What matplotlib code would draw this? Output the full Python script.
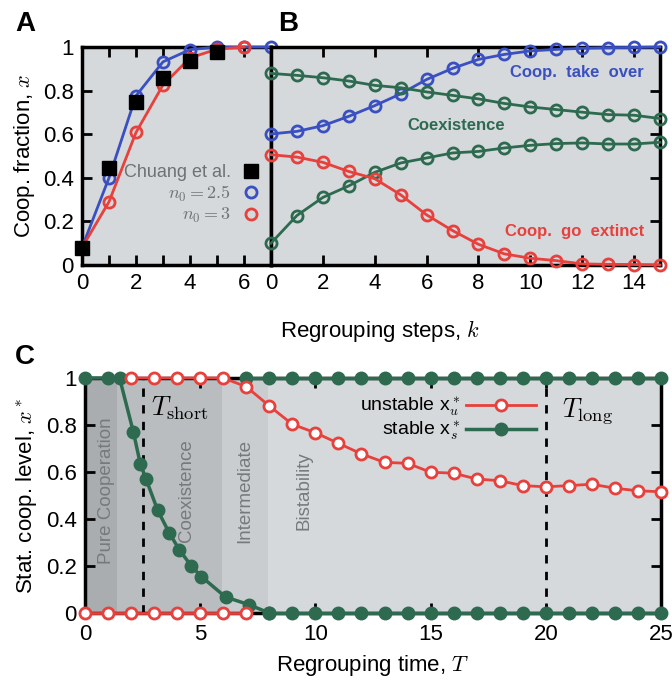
import matplotlib.pyplot as plt
import numpy as np

plt.rcParams['font.family'] = ['Liberation Sans', 'DejaVu Sans']
plt.rcParams['mathtext.fontset'] = 'cm'

# ---- data ----
# panel A
k_a = [0, 1, 2, 3, 4, 5, 6, 7]
chuang_k = [0, 1, 2, 3, 4, 5]
chuang_x = [0.08, 0.445, 0.748, 0.86, 0.938, 0.975]
n25_x = [0.08, 0.40, 0.776, 0.932, 0.988, 1.0, 1.0, 1.0]
n3_k = [0, 1, 2, 3, 4, 5, 6]
n3_x = [0.08, 0.29, 0.608, 0.826, 0.95, 0.99, 1.0]

# panel B
k_b = list(range(16))
takeover = [0.601, 0.613, 0.639, 0.682, 0.731, 0.785, 0.851, 0.902, 0.943,
            0.966, 0.982, 0.989, 0.994, 0.997, 0.998, 1.0]
coex_hi = [0.879, 0.870, 0.859, 0.844, 0.824, 0.813, 0.794, 0.778, 0.762,
           0.741, 0.725, 0.713, 0.701, 0.690, 0.687, 0.672]
coex_lo = [0.100, 0.227, 0.310, 0.363, 0.425, 0.468, 0.491, 0.514, 0.521,
           0.537, 0.549, 0.557, 0.560, 0.555, 0.555, 0.563]
extinct = [0.506, 0.495, 0.471, 0.429, 0.396, 0.322, 0.230, 0.158, 0.095,
           0.051, 0.031, 0.020, 0.005, 0.003, 0.002, 0.0]

# panel C
T_stab_hi = [0, 1, 1.5, 2.1, 2.4, 2.65, 3.15, 3.65, 4.1, 4.6, 5.05, 6.1, 7.1, 8]
x_stab_hi = [1, 1, 1, 0.77, 0.635, 0.57, 0.438, 0.342, 0.268, 0.202, 0.155,
             0.068, 0.036, 0.0]
T_stab_top = list(range(7, 26))
T_stab_bot = list(range(8, 26))
T_unst_hi = list(range(2, 26))
x_unst_hi = [1, 1, 1, 1, 1, 0.963, 0.881, 0.803, 0.767, 0.722, 0.677, 0.641,
             0.637, 0.599, 0.595, 0.570, 0.563, 0.542, 0.537, 0.542, 0.548,
             0.531, 0.520, 0.516]
T_unst_lo = [0, 1, 2, 3, 4, 5, 6, 7]
regions = [('Pure Cooperation', 0, 1.4, '#a9adaf', 0.95),
           ('Coexistence', 1.4, 5.95, '#b9bdbf', 4.4),
           ('Intermediate', 5.95, 7.95, '#c9cdcf', 6.95),
           ('Bistability', 7.95, 25, '#d5d9db', 9.5)]
T_short = 2.5
T_long = 20

BLUE = '#3a4fc1'
RED = '#e8403c'
GREEN = '#2d6a50'
BG = '#d5d9db'

fig = plt.figure(figsize=(6.72, 6.82), dpi=100)
W, H = 672, 682


def box(x0, x1, ytop, ybot):
    return [x0 / W, 1 - ybot / H, (x1 - x0) / W, (ybot - ytop) / H]


axA = fig.add_axes(box(82, 271, 47, 265))
axB = fig.add_axes(box(271, 660, 47, 265))
axC = fig.add_axes(box(85, 661, 378, 613))


def style(ax):
    ax.set_facecolor(BG)
    for s in ax.spines.values():
        s.set_linewidth(2.5)
    ax.tick_params(direction='in', length=7, width=2, labelsize=16,
                   top=True, right=True, pad=6)


for ax in (axA, axB, axC):
    style(ax)

yt = [0, 0.2, 0.4, 0.6, 0.8, 1]
ytl = ['0', '0.2', '0.4', '0.6', '0.8', '1']

# ---- panel A ----
axA.plot(k_a, n25_x, '-o', color=BLUE, mfc='none', ms=8, mew=2, lw=2,
         clip_on=False, zorder=4, label='$n_0 = 2.5$')
axA.plot(n3_k, n3_x, '-o', color=RED, mfc='none', ms=8, mew=2, lw=2,
         clip_on=False, zorder=5, label='$n_0 = 3$')
axA.plot(chuang_k, chuang_x, 's', color='black', ms=10, clip_on=False,
         zorder=6, label='Chuang et al.')
axA.set_xlim(0, 7)
axA.set_ylim(0, 1)
axA.set_xticks(range(8))
axA.set_xticklabels(['0', '', '2', '', '4', '', '6', ''])
axA.set_yticks(yt)
axA.set_yticklabels(ytl)
axA.tick_params(right=False)
axA.set_ylabel('Coop. fraction, $x$', fontsize=16, labelpad=4)
h, l = axA.get_legend_handles_labels()
legA = axA.legend([h[2], h[0], h[1]], [l[2], l[0], l[1]], loc='lower right',
                  bbox_to_anchor=(0.97, 0.14), frameon=False, markerfirst=False,
                  handlelength=0.6, handletextpad=0.8, labelspacing=0.15,
                  fontsize=13, borderpad=0)
for lh in legA.legend_handles:
    lh.set_linestyle('none')
for t in legA.get_texts():
    t.set_color('#6e7275')

# ---- panel B ----
axB.plot(k_b, takeover, '-o', color=BLUE, mfc='none', ms=8, mew=2, lw=2,
         clip_on=False, zorder=4)
axB.plot(k_b, coex_hi, '-o', color=GREEN, mfc='none', ms=8, mew=2, lw=2,
         clip_on=False, zorder=4)
axB.plot(k_b, coex_lo, '-o', color=GREEN, mfc='none', ms=8, mew=2, lw=2,
         clip_on=False, zorder=4)
axB.plot(k_b, extinct, '-o', color=RED, mfc='none', ms=8, mew=2, lw=2,
         clip_on=False, zorder=4)
axB.set_xlim(0, 15)
axB.set_ylim(0, 1)
axB.set_xticks(range(0, 15, 2))
axB.set_yticks(yt)
axB.set_yticklabels([])
axB.tick_params(left=False)
axB.text(11.8, 0.882, 'Coop.  take  over', color=BLUE, fontsize=12,
         fontweight='bold', ha='center', va='center')
axB.text(7.15, 0.64, 'Coexistence', color=GREEN, fontsize=12,
         fontweight='bold', ha='center', va='center')
axB.text(11.7, 0.153, 'Coop.  go  extinct', color=RED, fontsize=12,
         fontweight='bold', ha='center', va='center')

fig.text(380 / W, 1 - 331 / H, 'Regrouping steps, $k$', fontsize=16,
         ha='center', va='center')

# ---- panel C ----
for name, a, b, c, xt in regions:
    axC.axvspan(a, b, color=c, lw=0, zorder=0)
    axC.text(xt, 0.52, name, rotation=90, color='#767a7d', fontsize=13.5,
             ha='center', va='center', zorder=1)
for tv in (T_short, T_long):
    axC.axvline(tv, color='black', ls=(0, (3, 3)), lw=2, zorder=2)
axC.text(T_short + 0.35, 0.87, r'$T_{\rm short}$', fontsize=19,
         ha='left', va='center')
axC.text(T_long + 0.7, 0.86, r'$T_{\rm long}$', fontsize=19,
         ha='left', va='center')

gkw = dict(color=GREEN, lw=2.5, marker='o', ms=9, clip_on=False, zorder=5)
rkw = dict(color=RED, lw=2, marker='o', ms=8, mfc='white', mew=2,
           clip_on=False, zorder=6)
axC.plot(T_unst_hi, x_unst_hi, label='unstable x$^*_u$', **rkw)
axC.plot(T_unst_lo, np.zeros(len(T_unst_lo)), **rkw)
axC.plot(T_stab_hi, x_stab_hi, label='stable x$^*_s$', **gkw)
axC.plot(T_stab_top, np.ones(len(T_stab_top)), **gkw)
axC.plot(T_stab_bot, np.zeros(len(T_stab_bot)), **gkw)

axC.set_xlim(0, 25)
axC.set_ylim(0, 1)
axC.set_xticks([0, 5, 10, 15, 20, 25])
axC.set_yticks(yt)
axC.set_yticklabels(ytl)
axC.set_xlabel('Regrouping time, $T$', fontsize=16, labelpad=6)
axC.set_ylabel('Stat. coop. level, $x^*$', fontsize=16, labelpad=4)
axC.tick_params(axis='x', pad=8)
axC.legend(loc='upper right', bbox_to_anchor=(0.8, 0.965), frameon=False,
           markerfirst=False, handlelength=3.6, handletextpad=0.3,
           labelspacing=0.05, fontsize=14, borderpad=0)

fig.text(15 / W, 1 - 24 / H, 'A', fontsize=20, fontweight='bold', va='center')
fig.text(278 / W, 1 - 24 / H, 'B', fontsize=20, fontweight='bold', va='center')
fig.text(15 / W, 1 - 357 / H, 'C', fontsize=20, fontweight='bold', va='center')

fig.savefig('out.png', dpi=100)
